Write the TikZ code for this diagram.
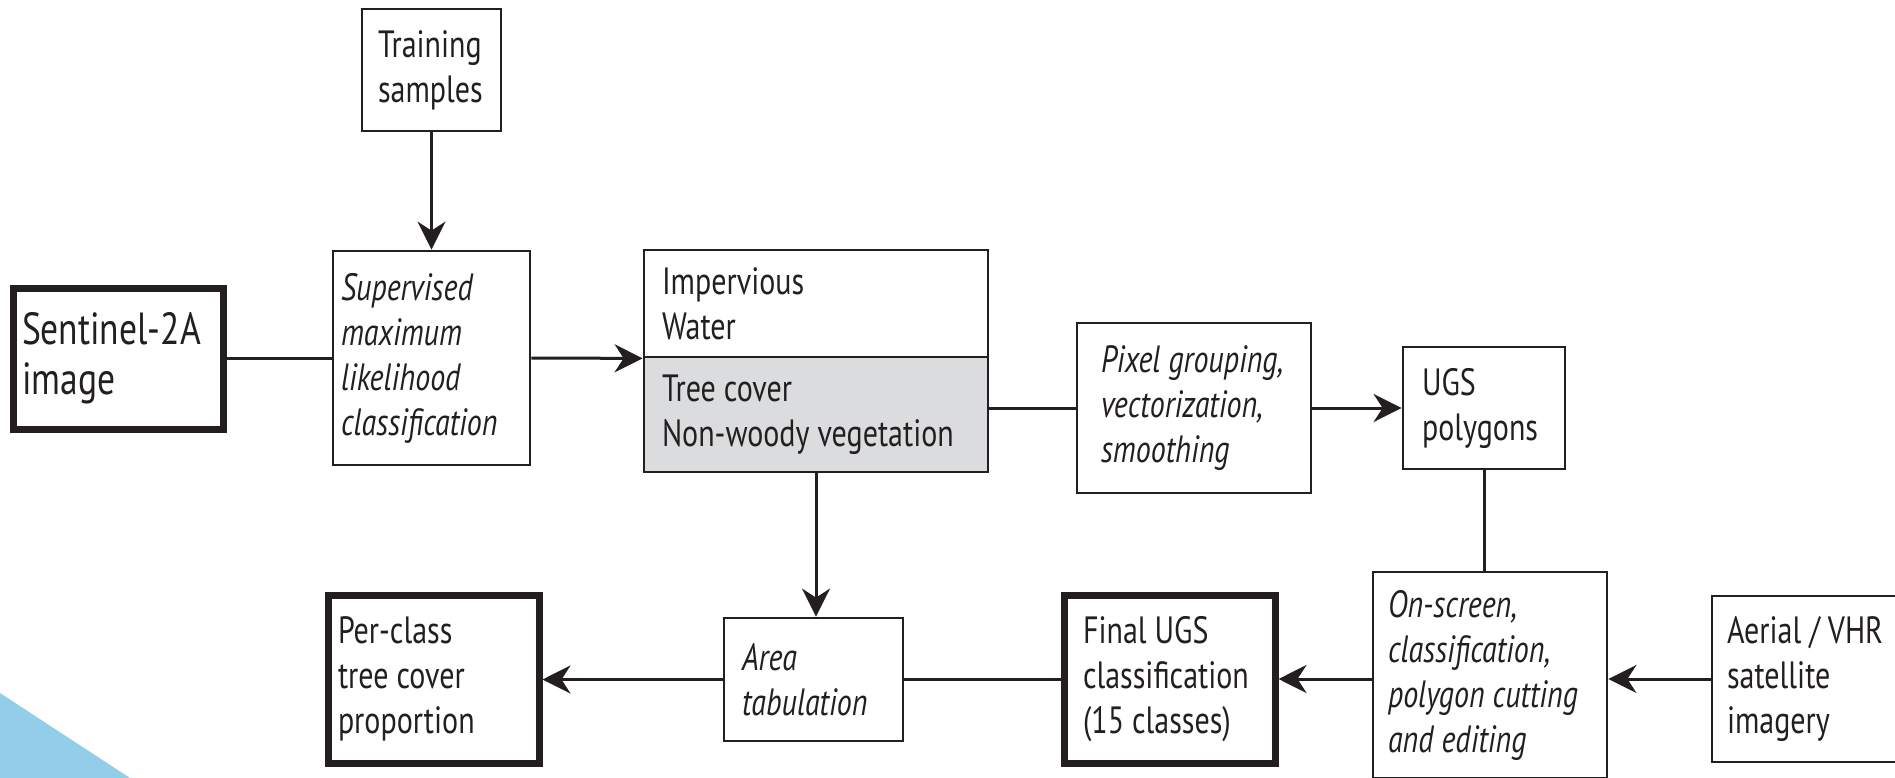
\documentclass[tikz,border=0pt]{standalone}
\usepackage{fontspec}
\setmainfont{PT Sans}[FakeStretch=0.79]
\usetikzlibrary{arrows.meta}
\definecolor{ink}{RGB}{35,31,32}
\definecolor{greyfill}{RGB}{218,220,221}
\definecolor{skyblue}{RGB}{146,205,234}
\newcommand{\wsp}{\nobreak\hspace{8pt}}
\tikzset{
  box/.style n args={3}{draw=ink, line width=2.8pt, fill=white,
    minimum width=#1pt, minimum height=#2pt, text width=#3pt,
    inner sep=0pt, align=left, text=ink,
    execute at begin node={\hyphenpenalty=10000\exhyphenpenalty=10000\hbadness=10000\hfuzz=100pt},
    font=\fontsize{38}{45}\selectfont},
  heavy/.style={line width=7pt},
  slanted/.style={font=\fontsize{38}{45}\selectfont\itshape},
  conn/.style={draw=ink, line width=3pt},
  arr/.style={conn, -{Stealth[length=28pt,width=28pt,inset=9pt]}},
}
\begin{document}
\begin{tikzpicture}[x=1pt,y=-1pt]
\useasboundingbox (0,0) rectangle (1895,778);
\fill[skyblue] (0,693) -- (130,778) -- (0,778) -- cycle;

\node[box={139}{122}{107}] (train) at (431.5,70) {Training\\samples};
\node[box={210}{141}{192}, heavy, font=\fontsize{45}{50}\selectfont] (sent) at (118,358.5) {Sentinel-2A\\image};
\node[box={197}{214}{181}, slanted] (sup) at (431.5,358) {Supervised\\maximum\\likelihood\\classification};
\node[box={344}{107}{308}] (cltop) at (816,303.5) {Impervious\\Water};
\node[box={344}{115}{308}, fill=greyfill] (clbot) at (816,414.5) {Tree\wsp cover\\Non-woody\wsp vegetation};
\node[box={234}{170}{186}, slanted] (pix) at (1194,408) {Pixel\wsp grouping,\\vectorization,\\smoothing};
\node[box={162}{122}{124}] (ugs) at (1484,408) {UGS\\polygons};
\node[box={234}{206}{204}, slanted] (scr) at (1490,675) {On-screen,\\classification,\\polygon\wsp cutting\\and\wsp editing};
\node[box={188}{166}{158}] (aer) at (1806,679) {Aerial\wsp /\wsp VHR\\satellite\\imagery};
\node[box={211}{168}{173}, heavy] (fin) at (1169.5,679) {Final\wsp UGS\\classification\\(15\wsp classes)};
\node[box={179}{123}{143}, slanted] (area) at (813.5,679.5) {Area\\tabulation};
\node[box={211}{168}{191}, heavy] (per) at (433.5,679) {Per-class\\tree\wsp cover\\proportion};

\draw[arr] (train.south) -- (sup.north);
\draw[conn] (sent.east) -- (sent.east -| sup.west);
\draw[arr] (sup.east) -- (cltop.south west);
\draw[conn] (pix.west) -- (pix.west -| clbot.east);
\draw[arr] (pix.east) -- (ugs.west);
\draw[arr] (clbot.south) -- (clbot.south |- area.north);
\draw[conn] (ugs.south) -- (ugs.south |- scr.north);
\draw[arr] (aer.west) -- (aer.west -| scr.east);
\draw[arr] (scr.west |- fin.east) -- (fin.east);
\draw[conn] (fin.west) -- (fin.west -| area.east);
\draw[arr] (area.west) -- (area.west -| per.east);
\end{tikzpicture}
\end{document}
